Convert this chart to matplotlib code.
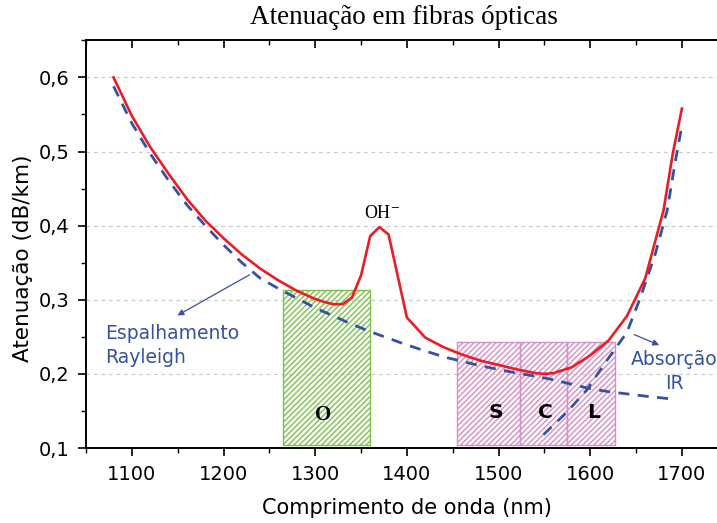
import matplotlib
matplotlib.use("Agg")
import matplotlib.pyplot as plt
from matplotlib.patches import Rectangle
from matplotlib.ticker import MultipleLocator, FuncFormatter

# measured attenuation (red)
wl_total = [1080, 1100, 1120, 1140, 1160, 1180, 1200, 1220, 1240, 1260, 1280, 1300,
            1310, 1320, 1330, 1340, 1350, 1360, 1370, 1380, 1400, 1420, 1440, 1460,
            1480, 1500, 1520, 1540, 1550, 1560, 1580, 1600, 1620, 1640, 1660, 1680,
            1690, 1700]
att_total = [0.600, 0.548, 0.506, 0.470, 0.436, 0.407, 0.383, 0.361, 0.342, 0.326,
             0.312, 0.301, 0.297, 0.294, 0.294, 0.303, 0.333, 0.386, 0.398, 0.388,
             0.276, 0.249, 0.236, 0.226, 0.218, 0.212, 0.206, 0.201, 0.200, 0.201,
             0.209, 0.225, 0.245, 0.278, 0.329, 0.421, 0.497, 0.558]

# Rayleigh scattering (blue dashed)
wl_rayleigh = [1080, 1100, 1120, 1140, 1160, 1180, 1200, 1220, 1240, 1260, 1280,
               1300, 1320, 1340, 1360, 1380, 1400, 1420, 1440, 1460, 1480, 1500,
               1520, 1540, 1560, 1580, 1600, 1620, 1640, 1660, 1690]
att_rayleigh = [0.588, 0.538, 0.497, 0.461, 0.428, 0.400, 0.374, 0.350, 0.329, 0.315,
                0.302, 0.289, 0.278, 0.267, 0.257, 0.248, 0.239, 0.231, 0.223, 0.217,
                0.211, 0.206, 0.201, 0.197, 0.192, 0.186, 0.180, 0.176, 0.173, 0.170,
                0.166]

# IR absorption (blue dashed)
wl_ir = [1549, 1575, 1596, 1618, 1640, 1655, 1671, 1684, 1693, 1700]
att_ir = [0.118, 0.149, 0.178, 0.218, 0.256, 0.304, 0.362, 0.421, 0.488, 0.535]

# bands: name, start, end
bands = ["O", "S", "C", "L"]
band_start = [1265, 1455, 1523, 1575]
band_end = [1360, 1523, 1575, 1627]
band_top = [0.313, 0.243, 0.243, 0.243]

red = "#ec1c24"
blue = "#3551a4"
green = "#7cc24a"
pink = "#d98bc8"

sans = "DejaVu Sans"
serif = "Liberation Serif"

plt.rcParams["hatch.linewidth"] = 1.0

fig = plt.figure(figsize=(7.17, 5.23), dpi=100)
ax = fig.add_axes([0.12, 0.1434, 0.895, 0.7795])

ax.set_xlim(1050, 1750)
ax.set_ylim(0.1, 0.65)

for yv in [0.2, 0.3, 0.4, 0.5, 0.6]:
    ax.axhline(yv, color="#cccccc", lw=0.9, ls=(0, (3, 3)), zorder=0)

for name, x0, x1, top in zip(bands, band_start, band_end, band_top):
    col = green if name == "O" else pink
    ax.add_patch(Rectangle((x0, 0.104), x1 - x0, top - 0.104, facecolor="none",
                           edgecolor=col, hatch="//////", lw=1.0, zorder=1))

ax.plot(wl_rayleigh, att_rayleigh, color=blue, lw=2, ls=(0, (4, 3)), zorder=3)
ax.plot(wl_ir, att_ir, color=blue, lw=2, ls=(0, (4, 3)), zorder=3)
ax.plot(wl_total, att_total, color=red, lw=1.9, zorder=4)

ax.text(1309, 0.144, "O", fontsize=15, fontweight="bold", family=serif,
        ha="center", va="center")
for name, x in zip(["S", "C", "L"], [1497, 1551, 1604]):
    ax.text(x, 0.148, name, fontsize=14.5, fontweight="bold", family=sans,
            ha="center", va="center")

ax.text(1373, 0.417, "OH$^{-}$", fontsize=13, family=serif, ha="center",
        va="center", math_fontfamily="stix")

ax.text(1071, 0.238, "Espalhamento\nRayleigh", fontsize=13.5, color=blue,
        family=sans, ha="left", va="center", linespacing=1.3)
ax.annotate("", xy=(1147, 0.277), xytext=(1231, 0.3355),
            arrowprops=dict(arrowstyle="-|>", color=blue, lw=0.9,
                            mutation_scale=9))

ax.text(1692, 0.203, "Absorção\nIR", fontsize=13.5, color=blue, family=sans,
        ha="center", va="center", linespacing=1.3)
ax.annotate("", xy=(1678, 0.2374), xytext=(1645, 0.2545),
            arrowprops=dict(arrowstyle="-|>", color=blue, lw=0.9,
                            mutation_scale=9))

ax.xaxis.set_major_locator(MultipleLocator(100))
ax.xaxis.set_minor_locator(MultipleLocator(50))
ax.yaxis.set_major_locator(MultipleLocator(0.1))
ax.yaxis.set_minor_locator(MultipleLocator(0.05))
ax.yaxis.set_major_formatter(FuncFormatter(lambda v, p: ("%.1f" % v).replace(".", ",")))

ax.tick_params(axis="both", which="major", direction="out", length=6, width=1.2,
               labelsize=14, pad=6)
ax.tick_params(axis="both", which="minor", direction="out", length=3.5, width=1.0)
ax.tick_params(axis="x", which="both", top=True)
for lab in ax.get_xticklabels() + ax.get_yticklabels():
    lab.set_family(sans)

# top ticks point inward
for t in ax.xaxis.get_major_ticks() + ax.xaxis.get_minor_ticks():
    t.tick2line.set_marker(3)

for s in ["left", "bottom", "top"]:
    ax.spines[s].set_linewidth(1.4)
ax.spines["right"].set_visible(False)

ax.set_xlabel("Comprimento de onda (nm)", fontsize=15, family=sans, labelpad=10)
ax.set_ylabel("Atenuação (dB/km)", fontsize=15.5, family=sans)
ax.yaxis.set_label_coords(-0.083, 0.466)
fig.text(0.5635, 0.9656, "Atenuação em fibras ópticas", fontsize=19.5, family=serif,
         ha="center", va="center")

fig.savefig("out.png", dpi=100)
